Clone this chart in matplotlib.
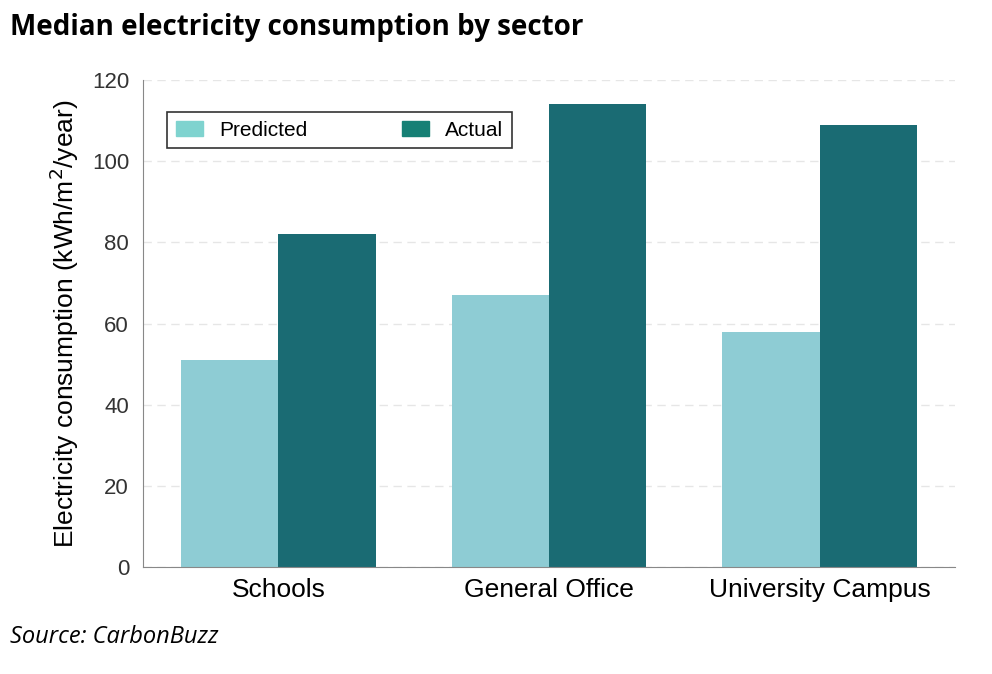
import matplotlib
matplotlib.use("Agg")
import matplotlib.pyplot as plt
import numpy as np
from matplotlib.patches import Patch

categories = ["Schools", "General Office", "University Campus"]
predicted = [51, 67, 58]
actual = [82, 114, 109]
yticks = [0, 20, 40, 60, 80, 100, 120]

fig = plt.figure(figsize=(9.92, 6.74), dpi=100)
ax = fig.add_axes([143/992, 1-567/674, (955-143)/992, (567-80)/674])
x = np.arange(len(categories))
w = 0.36
ax.bar(x - w/2, predicted, w, color="#8ECCD4")
ax.bar(x + w/2, actual, w, color="#1A6B73")
ax.set_xlim(-0.5, 2.5)
ax.set_ylim(0, 120)
ax.set_yticks(yticks)
ax.set_xticks(x)
ax.set_xticklabels(categories, family="Liberation Sans", fontsize=19)
ax.tick_params(axis="y", labelsize=16, length=0, pad=10)
ax.tick_params(axis="x", length=0, pad=8)
for l in ax.get_yticklabels():
    l.set_family("Liberation Sans"); l.set_color("#333333")
ax.yaxis.grid(True, linestyle=(0, (6, 4)), color="#e6e6e6", linewidth=1)
ax.set_axisbelow(True)
for s in ["top", "right"]:
    ax.spines[s].set_visible(False)
ax.spines["left"].set_color("#888888")
ax.spines["bottom"].set_color("#888888")
ax.set_ylabel("Electricity consumption (kWh/m$^2$/year)", family="Liberation Sans", fontsize=19, labelpad=8)
handles = [Patch(color="#7FD3CF", label="Predicted"), Patch(color="#168075", label="Actual")]
leg = ax.legend(handles=handles, loc="upper left", bbox_to_anchor=(14/812, 1-22/487), ncol=2,
                prop={"family": "Liberation Sans", "size": 15}, frameon=True, fancybox=False,
                edgecolor="black", columnspacing=4.5, handlelength=1.3, borderpad=0.4)
leg.get_frame().set_linewidth(1.2)
fig.text(10/992, 1-28/674, "Median electricity consumption by sector", fontsize=20, weight="bold",
         family="Open Sans", va="center", ha="left")
fig.text(10/992, 1-637/674, "Source: CarbonBuzz", fontsize=17, style="italic",
         family="Open Sans", va="center", ha="left")
fig.savefig("out.png", dpi=100)
